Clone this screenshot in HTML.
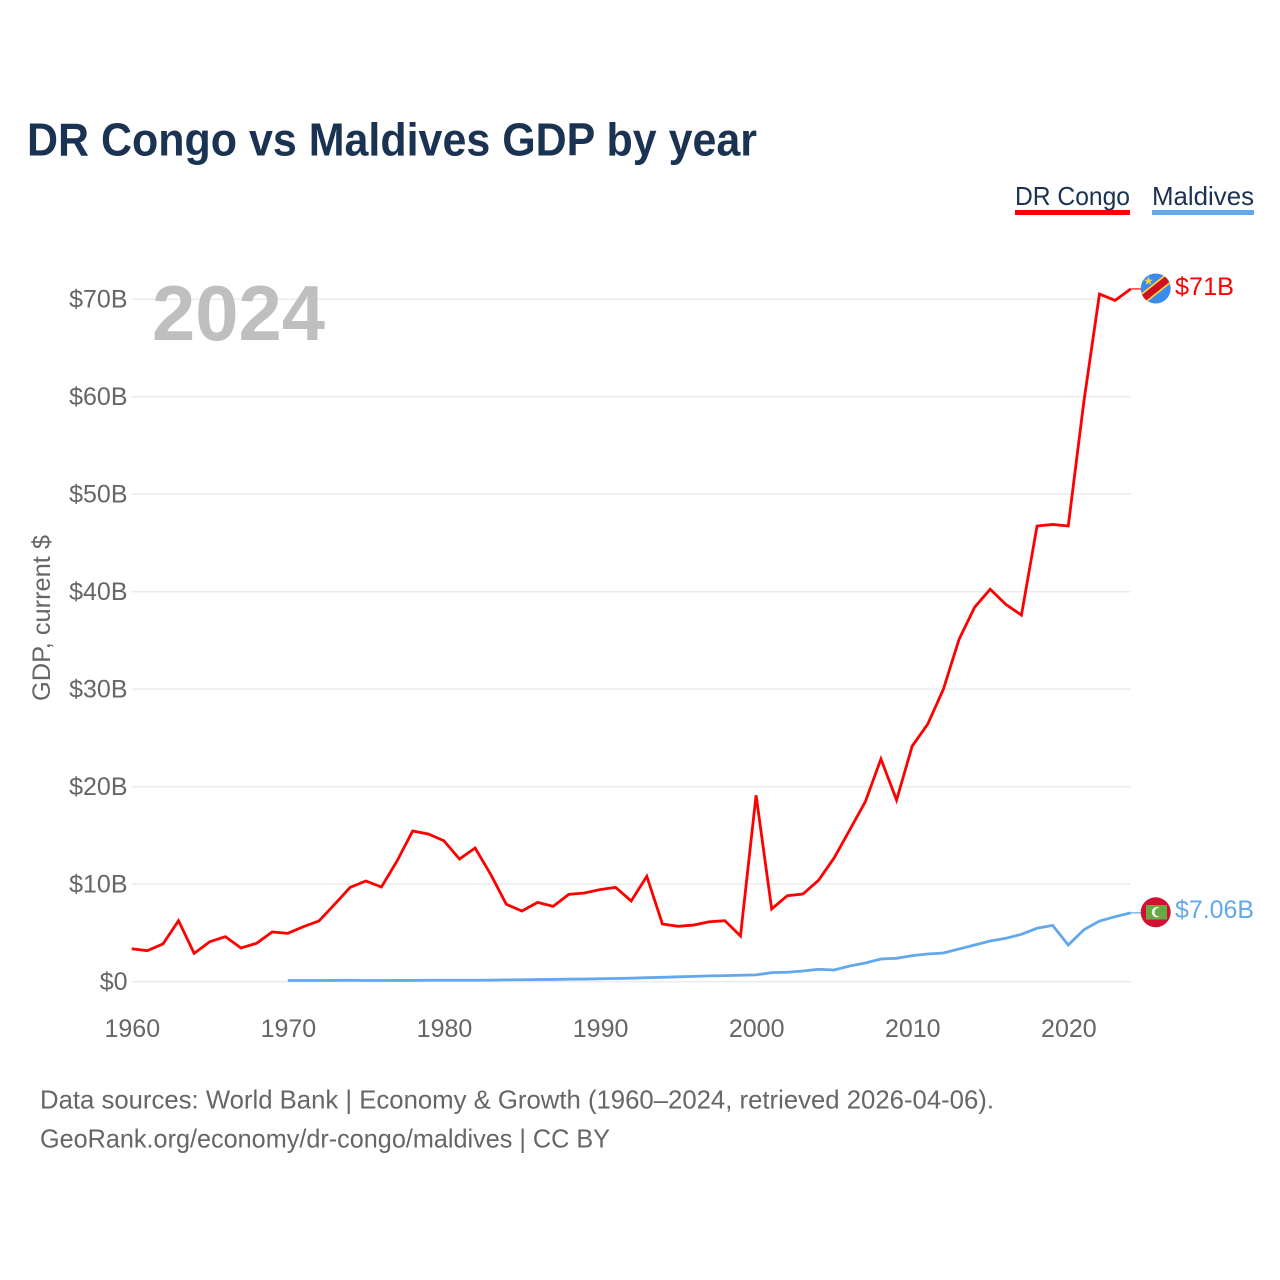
<!DOCTYPE html>
<html lang="en">
<head>
<meta charset="utf-8">
<title>DR Congo vs Maldives GDP by year</title>
<style>
  html, body { margin: 0; padding: 0; background: #fff; }
  body { width: 1280px; height: 1280px; overflow: hidden; }
  svg { display: block; font-family: "Liberation Sans", sans-serif; }
</style>
</head>
<body>
<svg id="chart" width="1280" height="1280" viewBox="0 0 1280 1280" xmlns="http://www.w3.org/2000/svg">
  <defs>
    <clipPath id="clip-congo"><circle cx="1155.7" cy="288.5" r="15"/></clipPath>
    <clipPath id="clip-maldives"><circle cx="1155.7" cy="912.3" r="15"/></clipPath>
  </defs>
  <rect width="1280" height="1280" fill="#fff"/>
  <text x="27" y="155.5" font-size="46" font-weight="700" fill="#1a3353" textLength="730" lengthAdjust="spacingAndGlyphs">DR Congo vs Maldives GDP by year</text>

  <g>
    <text x="1015" y="205" font-size="26" fill="#1a3353" textLength="115" lengthAdjust="spacingAndGlyphs">DR Congo</text>
    <rect x="1015" y="210" width="115" height="5" fill="#ff0000"/>
  </g>
  <g>
    <text x="1152" y="205" font-size="26" fill="#1a3353" textLength="102" lengthAdjust="spacingAndGlyphs">Maldives</text>
    <rect x="1152" y="210" width="102" height="5" fill="#62a8ec"/>
  </g>

  <g id="grid"></g>
  <g id="y-ticks"></g>
  <g id="x-ticks"></g>

  <text transform="translate(50 618) rotate(-90)" text-anchor="middle" font-size="25" fill="#666" textLength="166" lengthAdjust="spacingAndGlyphs">GDP, current $</text>
  <text x="152" y="340" font-size="78" font-weight="700" fill="#bfbfbf" textLength="173" lengthAdjust="spacingAndGlyphs">2024</text>

  <g id="series"></g>

  <g clip-path="url(#clip-congo)">
    <rect x="1140" y="273" width="32" height="32" fill="#3a8bef"/>
    <line x1="1135.7" y1="304.5" x2="1175.7" y2="272.5" stroke="#f7d238" stroke-width="10.5"/>
    <line x1="1135.7" y1="304.5" x2="1175.7" y2="272.5" stroke="#ce1021" stroke-width="7"/>
    <polygon points="1148.5,276.5 1149.7,279.6 1152.8,279.8 1150.4,281.7 1151.2,284.7 1148.5,283 1145.8,284.7 1146.6,281.7 1144.2,279.8 1147.3,279.6" fill="#f7d238"/>
  </g>
  <g clip-path="url(#clip-maldives)">
    <rect x="1140" y="897" width="32" height="32" fill="#d21034"/>
    <rect x="1146" y="905" width="21" height="14.5" fill="#6aa843"/>
    <circle cx="1157" cy="912.2" r="5.2" fill="#f4f4f4"/>
    <circle cx="1159" cy="912.2" r="4.4" fill="#6aa843"/>
  </g>

  <text x="1175" y="295" font-size="25" fill="#ff0000" textLength="59" lengthAdjust="spacingAndGlyphs">$71B</text>
  <text x="1175" y="918" font-size="25" fill="#62a8ec" textLength="79" lengthAdjust="spacingAndGlyphs">$7.06B</text>

  <text x="40" y="1108.5" font-size="26" fill="#666" textLength="954" lengthAdjust="spacingAndGlyphs">Data sources: World Bank | Economy &amp; Growth (1960–2024, retrieved 2026-04-06).</text>
  <a><text x="40" y="1147.5" font-size="26" fill="#666" textLength="570" lengthAdjust="spacingAndGlyphs">GeoRank.org/economy/dr-congo/maldives | CC BY</text></a>
</svg>
<script>
const SVG_NS = 'http://www.w3.org/2000/svg';

const yTickValues = [0, 10, 20, 30, 40, 50, 60, 70];
const yTickLabels = ['$0', '$10B', '$20B', '$30B', '$40B', '$50B', '$60B', '$70B'];
const xTickYears = [1960, 1970, 1980, 1990, 2000, 2010, 2020];
const xTickLabels = ['1960', '1970', '1980', '1990', '2000', '2010', '2020'];

const congoStartYear = 1960;
const congoValues = [3.38, 3.18, 3.87, 6.26, 2.91, 4.10, 4.62, 3.46, 3.94, 5.10,
  4.96, 5.64, 6.23, 7.94, 9.68, 10.33, 9.71, 12.38, 15.46, 15.15,
  14.46, 12.58, 13.71, 11.0, 7.94, 7.25, 8.14, 7.73, 8.96, 9.1,
  9.44, 9.68, 8.28, 10.81, 5.92, 5.68, 5.81, 6.15, 6.26, 4.69,
  19.12, 7.46, 8.82, 8.99, 10.4, 12.69, 15.56, 18.46, 22.84, 18.63,
  24.16, 26.43, 30.0, 35.1, 38.4, 40.25, 38.7, 37.6, 46.74, 46.9,
  46.74, 59.5, 70.53, 69.88, 71.05];

const maldivesStartYear = 1970;
const maldivesValues = [0.12, 0.12, 0.12, 0.13, 0.15, 0.12, 0.12, 0.13, 0.13, 0.15,
  0.15, 0.15, 0.15, 0.16, 0.19, 0.2, 0.22, 0.23, 0.26, 0.27,
  0.3, 0.33, 0.36, 0.41, 0.45, 0.5, 0.55, 0.6, 0.62, 0.66,
  0.7, 0.93, 0.97, 1.1, 1.27, 1.2, 1.61, 1.92, 2.33, 2.4,
  2.67, 2.84, 2.94, 3.35, 3.76, 4.17, 4.45, 4.86, 5.48, 5.78,
  3.76, 5.33, 6.22, 6.67, 7.06];

const plotLeft = 131.7, plotRight = 1130.7, plotZeroY = 981.7, pxPerBillion = 9.75;
const xScale = year => plotLeft + (year - 1960) * (plotRight - plotLeft) / 64;
const yScale = value => plotZeroY - value * pxPerBillion;

const gridGroup = document.getElementById('grid');
const yTickGroup = document.getElementById('y-ticks');
const xTickGroup = document.getElementById('x-ticks');
const seriesGroup = document.getElementById('series');

yTickValues.forEach((v, i) => {
  const line = document.createElementNS(SVG_NS, 'line');
  
  
  line.setAttribute('x1', plotLeft);
  line.setAttribute('x2', plotRight);
  line.setAttribute('y1', yScale(v));
  line.setAttribute('y2', yScale(v));
  line.setAttribute('stroke', '#ececec');
  line.setAttribute('stroke-width', '1.6');
  gridGroup.appendChild(line);

  const label = document.createElementNS(SVG_NS, 'text');
  
  
  label.setAttribute('x', 127.5);
  label.setAttribute('y', yScale(v) + 8.3);
  label.setAttribute('text-anchor', 'end');
  label.setAttribute('font-size', '25');
  label.setAttribute('fill', '#666');
  label.textContent = yTickLabels[i];
  yTickGroup.appendChild(label);
});

xTickYears.forEach((year, i) => {
  const label = document.createElementNS(SVG_NS, 'text');
  
  
  label.setAttribute('x', xScale(year) + 0.6);
  label.setAttribute('y', 1037);
  label.setAttribute('text-anchor', 'middle');
  label.setAttribute('font-size', '25');
  label.setAttribute('fill', '#666');
  label.textContent = xTickLabels[i];
  xTickGroup.appendChild(label);
});

function drawSeries(values, startYear, color) {
  const pts = values.map((v, i) => xScale(startYear + i).toFixed(2) + ',' + yScale(v).toFixed(2));
  const lastY = yScale(values[values.length - 1]);
  const connector = document.createElementNS(SVG_NS, 'line');
  
  
  connector.setAttribute('x1', plotRight);
  connector.setAttribute('x2', 1141);
  connector.setAttribute('y1', lastY);
  connector.setAttribute('y2', lastY);
  connector.setAttribute('stroke', color);
  connector.setAttribute('stroke-width', '1.2');
  seriesGroup.appendChild(connector);

  const line = document.createElementNS(SVG_NS, 'polyline');
  
  
  line.setAttribute('points', pts.join(' '));
  line.setAttribute('fill', 'none');
  line.setAttribute('stroke', color);
  line.setAttribute('stroke-width', '2.8');
  line.setAttribute('stroke-linejoin', 'miter');
  seriesGroup.appendChild(line);
}

drawSeries(congoValues, congoStartYear, '#ff0000');
drawSeries(maldivesValues, maldivesStartYear, '#62a8ec');
</script>
</body>
</html>
